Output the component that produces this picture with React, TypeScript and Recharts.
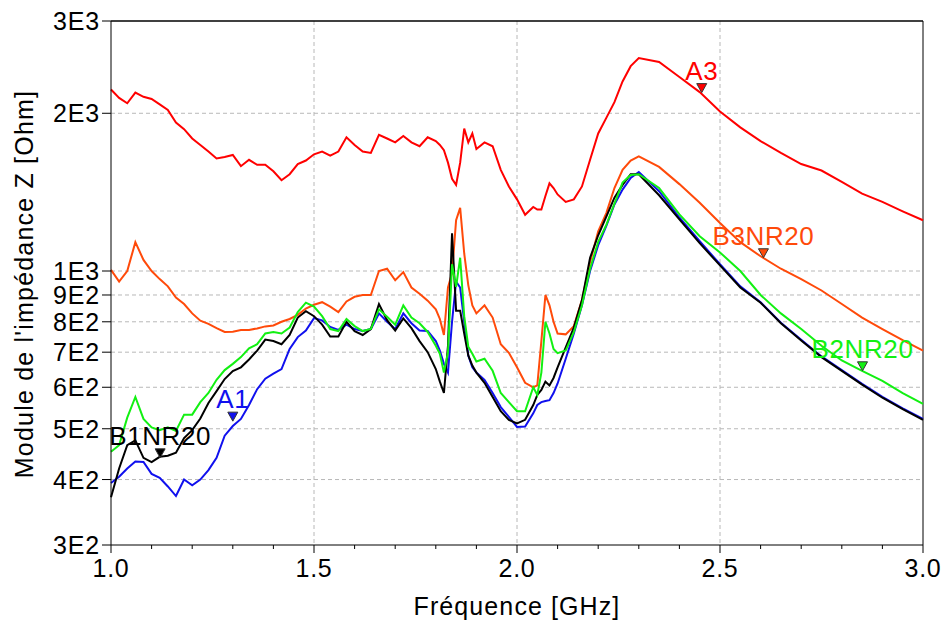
import { LineChart, Line, XAxis, YAxis, CartesianGrid, ReferenceLine, ReferenceDot } from "recharts"

// fréquence (GHz)
const freq = [
  1.0, 1.02, 1.04, 1.06, 1.08, 1.1, 1.12, 1.14, 1.16, 1.18,
  1.2, 1.22, 1.24, 1.26, 1.28, 1.3, 1.32, 1.34, 1.36, 1.38,
  1.4, 1.42, 1.44, 1.46, 1.48, 1.5, 1.52, 1.54, 1.56, 1.58,
  1.6, 1.62, 1.64, 1.66, 1.68, 1.7, 1.72, 1.74, 1.76, 1.78,
  1.8, 1.81, 1.82, 1.83, 1.84, 1.85, 1.86, 1.87, 1.88, 1.89,
  1.9, 1.92, 1.94, 1.96, 1.98, 2.0, 2.02, 2.04, 2.05, 2.06,
  2.07, 2.08, 2.09, 2.1, 2.12, 2.14, 2.16, 2.18, 2.2, 2.22,
  2.24, 2.26, 2.28, 2.3, 2.35, 2.4, 2.45, 2.5, 2.55, 2.6,
  2.65, 2.7, 2.75, 2.8, 2.85, 2.9, 2.95, 3.0,
]

// |Z| en Ohm
const zA3 = [
  2220, 2140, 2090, 2190, 2150, 2130, 2080, 2030, 1920, 1865,
  1790, 1740, 1690, 1640, 1650, 1665, 1585, 1630, 1595, 1595,
  1550, 1490, 1530, 1600, 1625, 1670, 1690, 1660, 1690, 1800,
  1740, 1690, 1680, 1820, 1790, 1760, 1810, 1760, 1730, 1800,
  1770, 1740, 1700, 1610, 1500, 1460, 1610, 1870, 1760, 1830,
  1710, 1760, 1730, 1560, 1450, 1370, 1280, 1325, 1310, 1310,
  1390, 1470, 1440, 1400, 1355, 1370, 1450, 1630, 1830, 1960,
  2100, 2300, 2460, 2550, 2505, 2345, 2195, 2015, 1880, 1770,
  1680, 1600, 1555, 1480, 1405, 1355, 1300, 1250,
]
const zB3 = [
  1005, 955, 1000, 1135, 1050, 1000, 965, 935, 890, 865,
  830, 804, 793, 778, 765, 766, 772, 772, 777, 784,
  787, 800, 810, 825, 848, 862, 872, 855, 835, 875,
  893, 900, 900, 1000, 1010, 960, 995, 930, 905, 878,
  845, 810, 755, 930, 990, 1250, 1320, 1080, 940, 860,
  830, 860, 815, 725, 698, 655, 612, 600, 605, 735,
  900, 860, 800, 760, 757, 785, 880, 1040, 1190, 1290,
  1440, 1560, 1625, 1655, 1580, 1465, 1350, 1235, 1135, 1067,
  1010, 965, 918, 865, 815, 775, 738, 705,
]
const zB2 = [
  452, 465, 525, 575, 522, 503, 497, 503, 495, 532,
  532, 562, 585, 620, 647, 665, 685, 712, 725, 760,
  765, 760, 780, 835, 870, 855, 820, 775, 768, 810,
  785, 768, 775, 845, 818, 790, 860, 815, 795, 765,
  720, 695, 640, 700, 1030, 933, 1060, 820, 717, 695,
  672, 680, 645, 585, 562, 540, 540, 600, 580, 640,
  800, 760, 710, 697, 705, 765, 860, 1010, 1137, 1225,
  1345, 1475, 1525, 1530, 1440, 1282, 1165, 1085, 1000, 900,
  830, 775, 720, 675, 645, 617, 585, 558,
]
const zA1 = [
  394, 405, 420, 433, 432, 410, 403, 388, 372, 400,
  390, 400, 417, 440, 485, 506, 522, 555, 595, 623,
  637, 650, 710, 748, 770, 813, 805, 782, 772, 790,
  775, 768, 775, 830, 800, 775, 830, 795, 770, 768,
  735, 705, 665, 640, 800, 955, 930, 800, 690, 655,
  640, 620, 585, 550, 527, 504, 505, 535, 555, 562,
  565, 567, 585, 610, 680, 760, 860, 1000, 1120, 1220,
  1340, 1430, 1505, 1545, 1420, 1265, 1140, 1030, 935, 872,
  797, 739, 687, 647, 609, 575, 547, 522,
]
const zB1 = [
  370, 420, 465, 475, 440, 432, 442, 444, 450, 480,
  497, 523, 560, 590, 622, 644, 655, 678, 705, 740,
  735, 725, 755, 815, 838, 820, 790, 750, 750, 800,
  768, 755, 775, 865, 806, 770, 812, 778, 735, 700,
  650, 615, 585, 720, 1180, 840, 840, 760, 690, 660,
  640, 612, 575, 540, 520, 512, 520, 555, 580, 593,
  615, 605, 625, 655, 715, 780, 880, 1060, 1170, 1270,
  1380, 1460, 1530, 1530, 1395, 1255, 1130, 1025, 930, 870,
  795, 737, 685, 645, 607, 573, 545, 520,
]

const xTicks = [1.0, 1.1, 1.2, 1.3, 1.4, 1.5, 1.6, 1.7, 1.8, 1.9, 2.0, 2.1, 2.2, 2.3, 2.4, 2.5, 2.6, 2.7, 2.8, 2.9, 3.0]
const yTicks = [300, 400, 500, 600, 700, 800, 900, 1000, 2000, 3000]
const xGrid = [1.5, 2.0, 2.5]
const yGrid = [400, 500, 600, 700, 800, 900, 1000, 2000]

const series = [
  { key: "A3", values: zA3, color: "#ff0000" },
  { key: "B3NR20", values: zB3, color: "#ff4a0a" },
  { key: "A1", values: zA1, color: "#1010ee" },
  { key: "B1NR20", values: zB1, color: "#000000" },
  { key: "B2NR20", values: zB2, color: "#12f012" },
]

// marqueurs
const markerNames = ["A3", "B3NR20", "B2NR20", "A1", "B1NR20"]
const markerFreq = [2.455, 2.607, 2.851, 1.3, 1.121]
const markerZ = [2190, 1060, 645, 517, 440]
const markerColors = ["#ff0000", "#ff4a0a", "#12f012", "#1010ee", "#000000"]

const FONT = "'Liberation Sans', Arial, sans-serif"

const data = freq.map((f, i) => {
  const row: any = { f }
  series.forEach((s) => { row[s.key] = s.values[i] })
  return row
})

function fmtE(v: number) {
  const e = Math.floor(Math.log10(v) + 1e-9)
  return `${Math.round(v / Math.pow(10, e))}E${e}`
}

function XTick({ x, y, payload }: any) {
  const v = payload.value
  const major = Math.abs(v * 2 - Math.round(v * 2)) < 1e-6
  return (
    <g>
      <line x1={x} x2={x} y1={y} y2={y + (major ? 8 : 4)} stroke="#000" strokeWidth={1} />
      {major && (
        <text x={x} y={y + 32} textAnchor="middle" fontSize={25} letterSpacing={0.8} fontFamily={FONT} fill="#000">
          {v.toFixed(1)}
        </text>
      )}
    </g>
  )
}

function YTick({ x, y, payload }: any) {
  return (
    <g>
      <line x1={x - 9} x2={x} y1={y} y2={y} stroke="#000" strokeWidth={1} />
      <text x={x - 11} y={y + 9} textAnchor="end" fontSize={25} letterSpacing={0.8} fontFamily={FONT} fill="#000">
        {fmtE(payload.value)}
      </text>
    </g>
  )
}

function makeMarker(name: string, color: string) {
  return (p: any) => {
    const { cx, cy } = p
    return (
      <g>
        <path d={`M${cx - 5},${cy - 9} L${cx + 5},${cy - 9} L${cx},${cy} Z`} fill={color} stroke="#333" strokeWidth={1} />
        <text x={cx} y={cy - 13} textAnchor="middle" fontSize={26} letterSpacing={0.6} fontFamily={FONT} fill={color}>
          {name}
        </text>
      </g>
    )
  }
}

export default function App() {
  return (
    <div style={{ position: "absolute", left: 0, top: 0 }}>
      <LineChart width={947} height={624} data={data} margin={{ top: 21, right: 24, bottom: 0, left: 0 }}>
        <CartesianGrid horizontalValues={yGrid} verticalValues={xGrid} stroke="#b8b8b8" strokeDasharray="4 3" />
        <XAxis
          dataKey="f"
          type="number"
          domain={[1, 3]}
          ticks={xTicks}
          interval={0}
          height={79}
          tickSize={0}
          tickMargin={0}
          tick={<XTick />}
          axisLine={{ stroke: "#000" }}
          label={{
            content: ({ viewBox }: any) => (
              <text x={viewBox.x + viewBox.width / 2} y={615} textAnchor="middle" fontSize={25} letterSpacing={1.1} fontFamily={FONT} fill="#000">
                Fréquence [GHz]
              </text>
            ),
          }}
        />
        <YAxis
          scale="log"
          domain={[300, 3000]}
          allowDataOverflow
          ticks={yTicks}
          interval={0}
          width={111}
          tickSize={0}
          tickMargin={0}
          tick={<YTick />}
          axisLine={{ stroke: "#000" }}
          label={{
            content: () => (
              <text x={33} y={284} transform="rotate(-90, 33, 284)" textAnchor="middle" fontSize={25} letterSpacing={1.2} fontFamily={FONT} fill="#000">
                Module de l'impédance Z [Ohm]
              </text>
            ),
          }}
        />
        <ReferenceLine y={3000} stroke="#000" strokeWidth={1.5} />
        <ReferenceLine x={3} stroke="#000" strokeWidth={1} />
        {series.map((s) => (
          <Line
            key={s.key}
            dataKey={s.key}
            stroke={s.color}
            strokeWidth={2}
            dot={false}
            type="linear"
            isAnimationActive={false}
          />
        ))}
        {markerNames.map((n, i) => (
          <ReferenceDot
            key={n}
            x={markerFreq[i]}
            y={markerZ[i]}
            ifOverflow="visible"
            shape={makeMarker(n, markerColors[i])}
          />
        ))}
      </LineChart>
    </div>
  )
}
